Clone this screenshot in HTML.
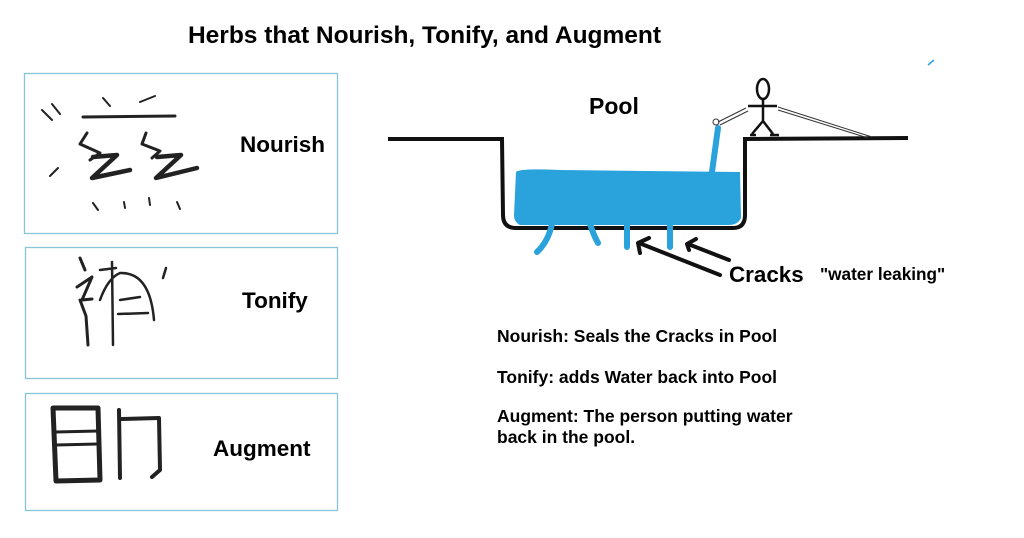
<!DOCTYPE html>
<html><head><meta charset="utf-8"><style>
html,body{margin:0;padding:0;background:#fff;}
svg{display:block;font-family:"Liberation Sans",Arial,sans-serif;font-weight:bold;}
</style></head><body>
<svg width="1024" height="538" viewBox="0 0 1024 538" xmlns="http://www.w3.org/2000/svg">
<text x="188" y="43" font-size="24" textLength="473" lengthAdjust="spacingAndGlyphs">Herbs that Nourish, Tonify, and Augment</text>
<g fill="none" stroke="#86c6d6" stroke-width="1.3">
<rect x="24.5" y="73.5" width="313" height="160"/>
<rect x="25.5" y="247.5" width="312" height="131"/>
<rect x="25.5" y="393.5" width="312" height="117"/>
</g>
<text x="240" y="152" font-size="22.5">Nourish</text>
<text x="242" y="308" font-size="22.5">Tonify</text>
<text x="213" y="456" font-size="22.5">Augment</text>
<g fill="none" stroke="#222" stroke-linecap="round" stroke-linejoin="round">
<!-- Nourish char -->
<path d="M83 117 L175 116" stroke-width="3"/>
<path d="M42 110 L52 120 M52 104 L60 114 M103 98 L110 106 M140 102 L155 96 M58 168 L50 176 M93 203 L98 210 M124 202 L125 208 M149 198 L150 205 M177 202 L180 209" stroke-width="2"/>
<path d="M87 133 L80 144 L100 153 L90 160" stroke-width="3"/>
<path d="M93 157 L117 155 L92 178 L130 170" stroke-width="4.5"/>
<path d="M146 133 L142 144 L160 151 L152 158" stroke-width="3"/>
<path d="M157 157 L181 155 L156 178 L197 168" stroke-width="4.5"/>
<!-- Tonify char -->
<path d="M80 258 L85 270 M77 287 L92 277 L82 300 L92 299 M80 300 L86 316 L88 345" stroke-width="3"/>
<path d="M100 270 L116 268 M112 262 L113 345 M100 300 Q108 278 120 273 Q150 272 154 320 M120 300 L140 297 M118 314 L148 313 M166 268 L163 278" stroke-width="2.5"/>
<!-- Augment char -->
<path d="M53 408 L98 408 L100 480 L56 481 Z" stroke-width="5"/>
<path d="M56 432 L98 431 M56 445 L98 444" stroke-width="3"/>
<path d="M119 410 L120 478 M121 419 L159 418 L160 470 L152 477" stroke-width="4"/>
</g>
<!-- pool -->
<path d="M388 139 L502 139 L503 215 Q503 228 516 228 L733 228 Q745 228 745 215 L745 139 L908 138" fill="none" stroke="#111" stroke-width="4"/>
<path d="M516 172 Q520 168 560 170 L740 172 L741 218 Q738 225 728 225 L520 225 Q514 222 514 215 Z" fill="#2aa2dc"/>
<path d="M552 224 Q548 242 537 252 M590 224 Q594 236 598 243 M627 224 L627 247 M670 224 L670 247 M712 172 L718 128" fill="none" stroke="#2aa2dc" stroke-width="6" stroke-linecap="round"/>
<!-- person -->
<g fill="none" stroke="#111" stroke-width="2.5">
<ellipse cx="763" cy="89" rx="6" ry="10"/>
<path d="M763 99 L763 121 M748 106 L777 106 M763 121 L752 134 M763 121 L773 134 M750 135 L756 135 M770 135 L779 135"/>
</g>
<g fill="none" stroke="#333" stroke-width="1">
<path d="M746 108 L718 122 M748 111 L720 125 M778 107 L872 137 M778 110 L868 138"/>
<circle cx="716" cy="122" r="3"/>
</g>
<path d="M928 65 L934 60" stroke="#2aa2dc" stroke-width="1.5"/>
<text x="589" y="114" font-size="23">Pool</text>
<!-- arrows -->
<g stroke="#111" stroke-width="4" fill="none" stroke-linecap="round" stroke-linejoin="round">
<path d="M720 275 L639 243 M649 238 L638 243 L640 253"/>
<path d="M729 260 L688 244 M696 239 L687 244 L689 250"/>
</g>
<text x="729" y="282" font-size="22.4">Cracks</text>
<text x="820" y="280" font-size="17.2">"water leaking"</text>
<g font-size="17.5">
<text x="497" y="342">Nourish: Seals the Cracks in Pool</text>
<text x="497" y="383">Tonify: adds Water back into Pool</text>
<text x="497" y="422">Augment: The person putting water</text>
<text x="497" y="443">back in the pool.</text>
</g>
</svg>
</body></html>
